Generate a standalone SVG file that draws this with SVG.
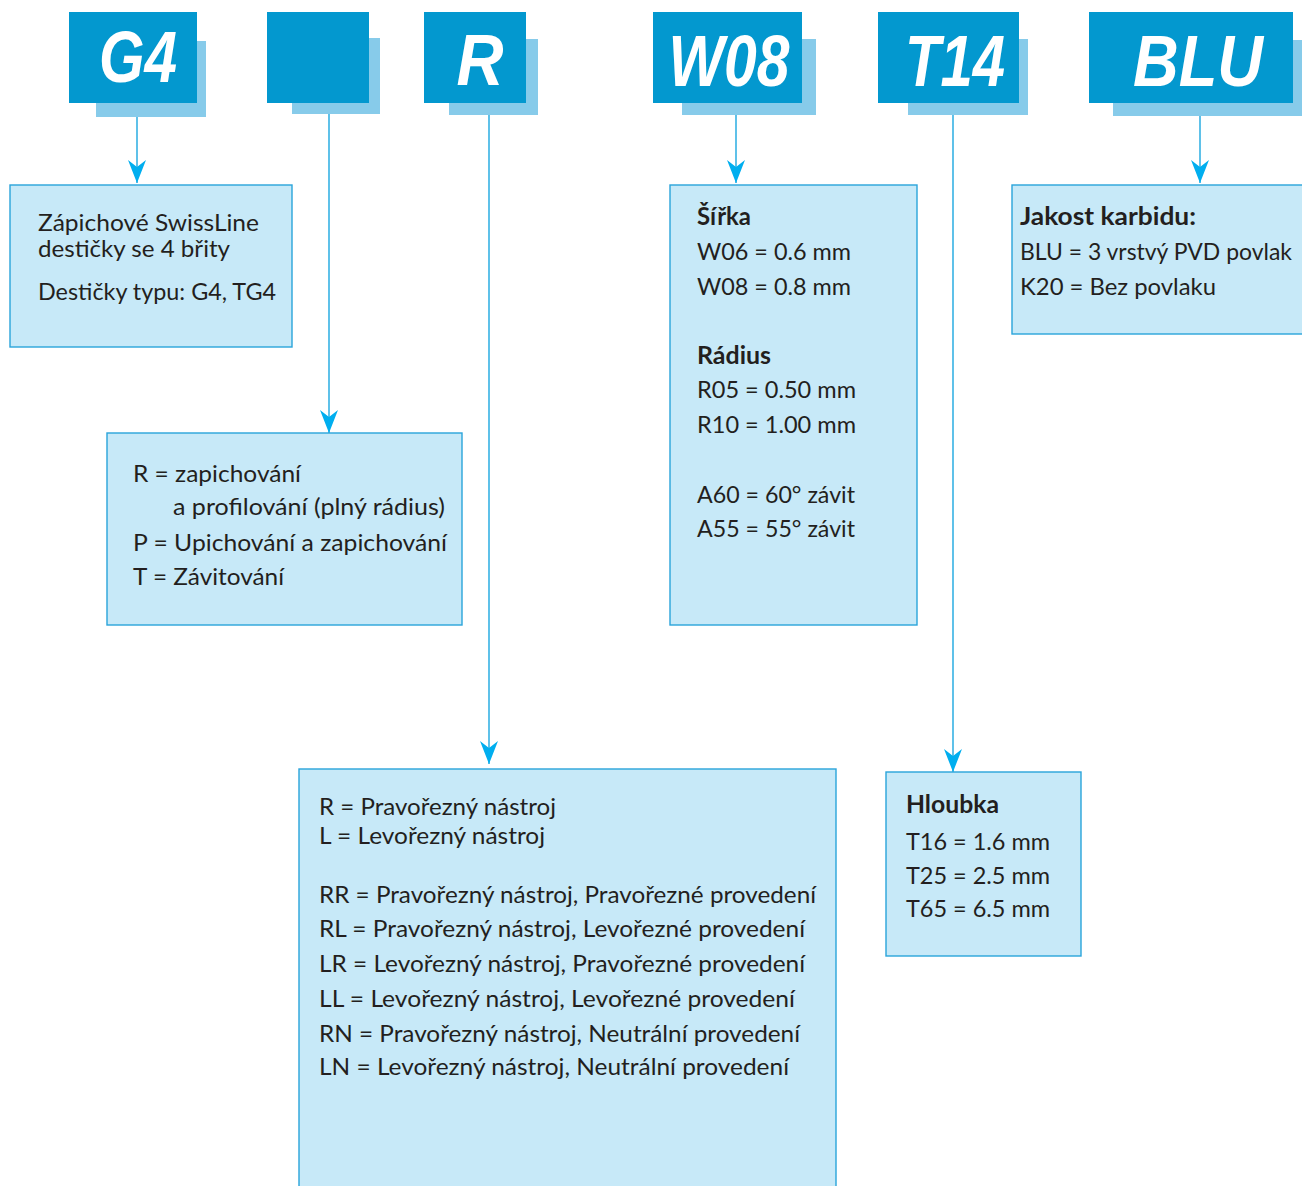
<svg xmlns="http://www.w3.org/2000/svg" width="1302" height="1186" viewBox="0 0 1302 1186">
<style>
.front{fill:#0398cf}
.shadow{fill:#87cbea}
.hdr{font-family:"Liberation Sans",Arial,sans-serif;font-weight:bold;font-style:italic;font-size:73px;fill:#ffffff;text-anchor:middle}
.box{fill:#c7e9f8;stroke:#2aa4db;stroke-width:1.4}
.t{font-family:Lato,"Noto Sans",sans-serif;font-size:24px;fill:#231f20}
.s{font-size:23px}
.b{font-weight:bold}
.conn{stroke:#1aa7e0;stroke-width:1.4;fill:none}
</style>
<defs>
<marker id="ah" markerUnits="userSpaceOnUse" viewBox="0 -10 24 20" refX="23" refY="0" markerWidth="24" markerHeight="20" orient="auto">
<path d="M0,-9 L23,0 L0,9 L7,0 Z" fill="#00aeef"/>
</marker>
</defs>
<rect width="1302" height="1186" fill="#ffffff"/>

<g id="connectors">
<line class="conn" x1="137" y1="117" x2="137" y2="183" marker-end="url(#ah)"/>
<line class="conn" x1="329" y1="114" x2="329" y2="433" marker-end="url(#ah)"/>
<line class="conn" x1="489" y1="115" x2="489" y2="764" marker-end="url(#ah)"/>
<line class="conn" x1="736" y1="115" x2="736" y2="183" marker-end="url(#ah)"/>
<line class="conn" x1="953" y1="115" x2="953" y2="772" marker-end="url(#ah)"/>
<line class="conn" x1="1200" y1="116" x2="1200" y2="183" marker-end="url(#ah)"/>
</g>

<g id="h-g4">
<rect class="shadow" x="96" y="41" width="110" height="76"/>
<rect class="front" x="69" y="12" width="128" height="91"/>
<text class="hdr" x="138" y="82" textLength="78" lengthAdjust="spacingAndGlyphs">G4</text>
</g>
<g id="h-blank">
<rect class="shadow" x="292" y="38" width="88" height="76"/>
<rect class="front" x="267" y="12" width="102" height="91"/>
</g>
<g id="h-r">
<rect class="shadow" x="449" y="39" width="89" height="76"/>
<rect class="front" x="424" y="12" width="102" height="91"/>
<text class="hdr" x="480" y="85" textLength="47" lengthAdjust="spacingAndGlyphs">R</text>
</g>
<g id="h-w08">
<rect class="shadow" x="682" y="39" width="134" height="76"/>
<rect class="front" x="653" y="12" width="149" height="91"/>
<text class="hdr" x="729" y="86" textLength="121" lengthAdjust="spacingAndGlyphs">W08</text>
</g>
<g id="h-t14">
<rect class="shadow" x="908" y="39" width="120" height="76"/>
<rect class="front" x="878" y="12" width="141" height="91"/>
<text class="hdr" x="955" y="86" textLength="100" lengthAdjust="spacingAndGlyphs">T14</text>
</g>
<g id="h-blu">
<rect class="shadow" x="1113" y="40" width="200" height="76"/>
<rect class="front" x="1089" y="12" width="204" height="91"/>
<text class="hdr" x="1198" y="86" textLength="130" lengthAdjust="spacingAndGlyphs">BLU</text>
</g>

<g id="n-type">
<rect class="box" x="10" y="185" width="282" height="162"/>
<text class="t s" x="38" y="231" textLength="221" lengthAdjust="spacingAndGlyphs">Zápichové SwissLine</text>
<text class="t s" x="38" y="257" textLength="192" lengthAdjust="spacingAndGlyphs">destičky se 4 břity</text>
<text class="t" x="38" y="300" textLength="238" lengthAdjust="spacingAndGlyphs">Destičky typu: G4, TG4</text>
</g>

<g id="n-operation">
<rect class="box" x="107" y="433" width="355" height="192"/>
<text class="t" x="133" y="482" textLength="168" lengthAdjust="spacingAndGlyphs">R = zapichování</text>
<text class="t" x="173" y="515" textLength="272" lengthAdjust="spacingAndGlyphs">a profilování (plný rádius)</text>
<text class="t" x="133" y="551" textLength="314" lengthAdjust="spacingAndGlyphs">P = Upichování a zapichování</text>
<text class="t" x="133" y="585" textLength="151" lengthAdjust="spacingAndGlyphs">T = Závitování</text>
</g>

<g id="n-width">
<rect class="box" x="670" y="185" width="247" height="440"/>
<text class="t b" x="697" y="225" textLength="54" lengthAdjust="spacingAndGlyphs">Šířka</text>
<text class="t" x="697" y="260" textLength="154" lengthAdjust="spacingAndGlyphs">W06 = 0.6 mm</text>
<text class="t" x="697" y="295" textLength="154" lengthAdjust="spacingAndGlyphs">W08 = 0.8 mm</text>
<text class="t b" x="697" y="364" textLength="74" lengthAdjust="spacingAndGlyphs">Rádius</text>
<text class="t" x="697" y="398" textLength="159" lengthAdjust="spacingAndGlyphs">R05 = 0.50 mm</text>
<text class="t" x="697" y="433" textLength="159" lengthAdjust="spacingAndGlyphs">R10 = 1.00 mm</text>
<text class="t" x="697" y="503" textLength="158" lengthAdjust="spacingAndGlyphs">A60 = 60° závit</text>
<text class="t" x="697" y="537" textLength="158" lengthAdjust="spacingAndGlyphs">A55 = 55° závit</text>
</g>

<g id="n-grade">
<rect class="box" x="1012" y="185" width="300" height="149"/>
<text class="t b" x="1020" y="225" textLength="176" lengthAdjust="spacingAndGlyphs">Jakost karbidu:</text>
<text class="t" x="1020" y="260" textLength="272" lengthAdjust="spacingAndGlyphs">BLU = 3 vrstvý PVD povlak</text>
<text class="t" x="1020" y="295" textLength="196" lengthAdjust="spacingAndGlyphs">K20 = Bez povlaku</text>
</g>

<g id="n-hand">
<rect class="box" x="299" y="769" width="537" height="440"/>
<text class="t" x="319" y="815" textLength="237" lengthAdjust="spacingAndGlyphs">R = Pravořezný nástroj</text>
<text class="t" x="319" y="844" textLength="226" lengthAdjust="spacingAndGlyphs">L = Levořezný nástroj</text>
<text class="t" x="319" y="903" textLength="497" lengthAdjust="spacingAndGlyphs">RR = Pravořezný nástroj, Pravořezné provedení</text>
<text class="t" x="319" y="937" textLength="486" lengthAdjust="spacingAndGlyphs">RL = Pravořezný nástroj, Levořezné provedení</text>
<text class="t" x="319" y="972" textLength="486" lengthAdjust="spacingAndGlyphs">LR = Levořezný nástroj, Pravořezné provedení</text>
<text class="t" x="319" y="1007" textLength="476" lengthAdjust="spacingAndGlyphs">LL = Levořezný nástroj, Levořezné provedení</text>
<text class="t" x="319" y="1042" textLength="481" lengthAdjust="spacingAndGlyphs">RN = Pravořezný nástroj, Neutrální provedení</text>
<text class="t" x="319" y="1075" textLength="470" lengthAdjust="spacingAndGlyphs">LN = Levořezný nástroj, Neutrální provedení</text>
</g>

<g id="n-depth">
<rect class="box" x="886" y="772" width="195" height="184"/>
<text class="t b" x="906" y="813" textLength="93" lengthAdjust="spacingAndGlyphs">Hloubka</text>
<text class="t" x="906" y="850" textLength="144" lengthAdjust="spacingAndGlyphs">T16 = 1.6 mm</text>
<text class="t" x="906" y="884" textLength="144" lengthAdjust="spacingAndGlyphs">T25 = 2.5 mm</text>
<text class="t" x="906" y="917" textLength="144" lengthAdjust="spacingAndGlyphs">T65 = 6.5 mm</text>
</g>
</svg>
